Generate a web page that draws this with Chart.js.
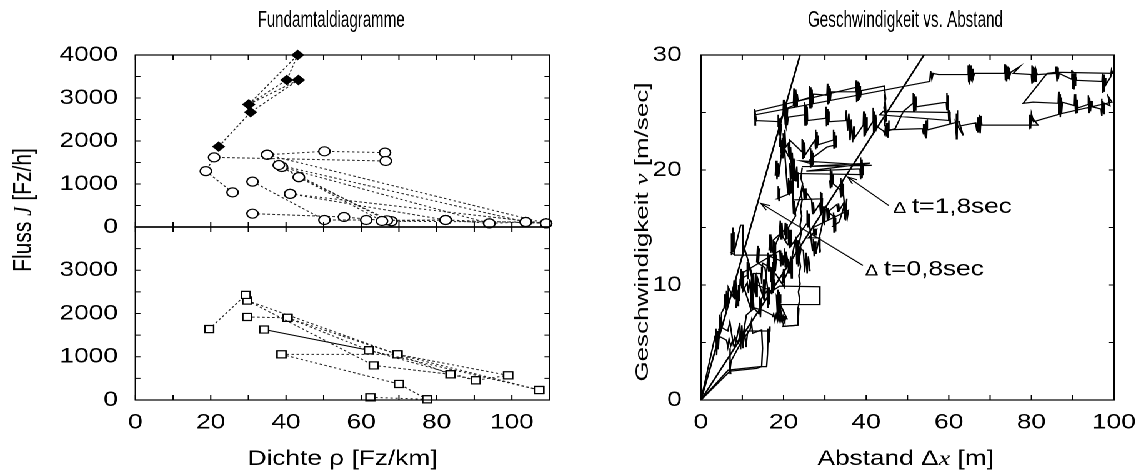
<!DOCTYPE html>
<html lang="de">
<head>
<meta charset="utf-8">
<title>Fundamtaldiagramme / Geschwindigkeit vs. Abstand</title>
<style>
  html, body { margin: 0; padding: 0; background: #fff; overflow: hidden; }
  /* the original figure is drawn 25% wider than tall, so the whole stage is stretched */
  #stage { position: absolute; left: 0; top: 0; width: 913px; height: 472px;
           transform: scaleX(1.2497); transform-origin: 0 0; }
  #stage canvas { position: absolute; top: 0; }
</style>
</head>
<body>
<div id="stage">
  <canvas id="fluxTop" width="445" height="472" style="left:0;width:445px;height:472px"></canvas>
  <canvas id="fluxBottom" width="445" height="472" style="left:0;width:445px;height:472px"></canvas>
  <canvas id="speedGap" width="480" height="472" style="left:455px;width:480px;height:472px"></canvas>
</div>

<script src="https://cdn.jsdelivr.net/npm/chart.js"></script>
<script>
// ---- tick labels
const densityTicks = [0, 20, 40, 60, 80, 100];
const fluxTopTicks = [0, 1000, 2000, 3000, 4000];
const fluxBottomTicks = [0, 1000, 2000, 3000];
const gapTicks = [0, 20, 40, 60, 80, 100];
const speedTicks = [0, 10, 20, 30];

// ---- left, upper panel: [density, flow]
const freeFlowRuns = [
  [[22.1, 1870], [30.6, 2670], [43.3, 3420]],
  [[30.1, 2850], [40.2, 3420], [43.1, 4000]],
  [[30.1, 2850], [43.1, 4000]],
  [[30.1, 2850], [43.3, 3420]]
];
const congestedRuns = [
  [[25.8, 805], [18.7, 1300], [20.9, 1620], [66.5, 1535]],
  [[35.0, 1680], [50.2, 1760], [66.3, 1730]],
  [[35.0, 1680], [38.1, 1440], [103.7, 116], [109.1, 85]],
  [[38.9, 1395], [94.0, 85], [103.7, 116]],
  [[38.1, 1440], [43.4, 1160], [65.5, 140]],
  [[38.9, 1395], [66.8, 155], [82.4, 163]],
  [[43.4, 1160], [68.0, 133], [103.7, 116]],
  [[31.1, 1055], [50.2, 163], [61.3, 163]],
  [[31.1, 310], [55.4, 233], [68.0, 133], [82.4, 163], [109.1, 85]],
  [[41.1, 770], [82.4, 163], [94.0, 85]],
  [[41.1, 770], [109.1, 85]],
  [[35.0, 1680], [109.1, 85]]
];

// ---- left, lower panel
const lowerRuns = [
  [[19.6, 1640], [29.3, 2430]],
  [[29.7, 2300], [63.3, 800], [83.7, 594], [90.4, 455]],
  [[29.7, 1920], [40.4, 1900], [62.0, 1150], [107.3, 231]],
  [[40.4, 1900], [69.6, 1055], [99.0, 570]],
  [[29.7, 2300], [69.6, 1055], [107.3, 231]],
  [[38.8, 1055], [69.6, 1055], [83.7, 594]],
  [[38.8, 1055], [70.0, 370], [77.5, 16]],
  [[62.4, 62], [77.5, 16]],
  [[62.0, 1150], [90.4, 455], [99.0, 570]]
];
const lowerSolidRun = [[34.2, 1630], [62.0, 1150]];

// ---- right panel: [gap, speed]
const lineDt08 = [[0, 0], [24, 30]];
const lineDt18 = [[0, 0], [54, 30]];

const run1 = [[19.1,24.2],[13.4,24.3],
  [13.0,25.3],[13.2,24.0],[12.9,25.0],[13.3,24.2],[13.0,25.2],[13.2,23.9],[13.1,24.8],
  [55.4,27.7],[55.6,28.6],[55.9,27.9],[56.2,28.4],[57.5,28.3],
  [64.6,28.3],[64.7,29.1],[64.8,27.7],[64.9,29.2],[65.0,27.6],[65.1,29.0],[65.2,27.8],[65.4,29.1],[65.5,27.7],[65.7,28.8],[65.9,28.0],[66.2,28.4],
  [73.4,28.4],[73.6,29.2],[73.7,27.8],[73.9,29.1],[74.0,27.7],[74.2,29.0],[74.3,27.9],[74.5,28.9],[74.7,28.1],[75.0,28.5],[77.2,29.0],[75.6,28.4],
  [80.0,28.3],[80.1,29.1],[80.2,27.5],[80.4,29.0],[80.5,27.6],[80.7,28.9],[80.9,27.7],[81.1,28.7],[81.4,28.3],
  [85.9,28.4],[86.0,29.0],[86.2,27.7],[86.3,28.9],[86.5,27.9],[86.7,28.4],
  [89.7,27.9],[89.8,28.7],[90.0,27.1],[90.1,28.6],[90.3,27.0],[90.5,28.4],[90.6,27.3],[90.8,28.1],[91.0,27.8],
  [97.1,27.7],[97.2,28.4],[97.3,26.7],[97.5,28.3],[97.6,26.8],[97.8,28.0],[98.0,27.4],[99.2,28.1],[99.4,28.7],[99.7,28.4],
  [86.0,28.5],[83.8,28.4],[78.0,25.8],[80.4,25.9],
  [86.5,25.8],[86.6,26.8],[86.7,24.8],[86.9,26.6],[87.0,24.6],[87.2,26.3],[87.3,24.9],[87.5,25.9],
  [90.4,25.6],[90.5,26.6],[90.6,24.9],[90.8,26.4],[90.9,25.0],[91.1,26.1],[91.3,25.4],
  [93.7,25.7],[93.8,26.5],[94.0,25.0],[94.1,26.3],[94.3,25.1],[94.5,26.0],[94.7,25.5],
  [96.9,25.3],[97.0,26.2],[97.1,24.7],[97.3,26.0],[97.5,24.9],[97.7,25.8],[99.0,25.6],[98.6,26.4],[99.5,25.9],
  [87.2,24.9],[80.5,24.2],
  [80.0,24.9],[79.8,23.6],[79.6,24.8],[79.5,23.7],[80.3,24.5],[81.6,23.9],
  [68.0,23.9],[67.8,24.7],[67.6,23.2],[67.4,24.8],[67.2,23.3],[67.0,24.6],[66.8,23.4],[66.5,24.1],
  [62.3,23.8],[62.1,25.2],[62.0,22.7],[61.9,24.9],[61.8,22.9],[61.6,24.2],[63.5,23.0],[62.5,24.2],
  [55.0,23.5],[54.8,24.4],[54.6,22.8],[54.5,24.3],[54.3,22.9],[54.1,24.0],[53.9,23.1],[53.6,23.6],
  [45.7,23.5],[45.5,24.3],[45.3,22.8],[45.1,24.1],[44.9,22.9],[44.7,23.9],[44.5,23.1],[44.2,23.4]];

const run2 = [[19.1,24.2],[19.9,24.9],
  [20.0,26.1],[20.2,24.4],[20.3,26.0],[20.5,24.5],[20.6,25.9],[20.8,24.6],[21.0,25.4],
  [22.4,25.6],[22.5,27.1],[22.6,25.4],[22.8,27.0],[22.9,25.5],[23.0,26.9],[23.2,25.6],[23.3,26.6],[23.5,26.0],
  [26.2,26.3],[26.3,27.3],[26.4,25.4],[26.6,27.2],[26.7,25.5],[26.9,27.0],[27.0,25.8],[27.2,26.6],
  [30.5,26.5],[30.6,27.5],[30.7,25.7],[30.9,27.3],[31.0,25.8],[31.2,27.1],[31.3,26.0],[31.5,26.8],
  [37.5,26.8],[37.6,27.8],[37.7,25.9],[37.9,27.7],[38.0,26.0],[38.2,27.6],[38.3,26.1],[38.5,27.3],[38.6,26.3],[38.8,26.9],
  [44.4,27.3],[44.7,26.2],[44.3,25.4],[44.8,24.6],[44.4,23.8],[44.7,25.0],[44.5,26.6],[44.9,24.2]];

const run2b = [[13.1,25.1],[37.7,27.2]];

const run3 = [[20.3,25.1],
  [20.4,24.0],[20.5,25.3],[20.6,23.8],[20.8,25.1],[20.9,23.9],[21.1,24.6],
  [25.0,24.8],[25.1,25.9],[25.2,23.9],[25.4,25.7],[25.5,24.0],[25.7,25.5],[25.8,24.3],
  [30.2,24.5],[30.3,25.5],[30.4,23.8],[30.6,25.3],[30.7,23.9],[30.9,25.1],[31.0,24.2],
  [35.0,24.3],[35.2,25.2],[35.5,23.4],[35.8,24.9],[36.1,22.6],[36.4,24.4],[36.7,22.4],[37.0,23.8],[37.2,22.8],
  [39.3,23.9],[39.4,25.1],[39.5,22.9],[39.7,24.9],[39.8,23.0],[40.0,24.6],[40.2,23.4],
  [41.6,24.2],[41.7,25.4],[41.8,23.3],[42.0,25.1],[42.1,23.4],[42.3,24.8],[42.5,23.8],
  [44.6,23.3],[47.0,23.6],[49.0,25.1],
  [51.3,25.8],[51.4,26.7],[51.5,25.1],[51.7,26.6],[51.8,25.2],[52.0,26.4],[52.2,25.5],
  [59.4,25.9],[59.5,26.7],[59.6,25.2],[59.8,26.5],[59.9,25.1],[60.0,24.3],[60.2,25.2],[60.4,24.1],[60.3,25.0],
  [44.1,25.1],[43.3,24.8],[60.3,24.3]];

const run4 = [[19.9,23.2],[20.1,22.3],[20.3,23.5],[20.5,22.0],[21.1,22.3],[21.3,21.2],[21.5,22.6],
  [24.4,21.6],[24.5,22.7],[24.6,21.0],[24.8,22.6],[24.9,21.1],[25.1,22.4],[25.2,21.3],
  [27.6,22.6],[27.7,23.5],[27.8,21.8],[28.0,23.3],[28.1,21.9],[28.3,23.0],[28.4,22.2],
  [32.0,22.6],[32.1,23.5],[32.2,21.9],[32.4,23.3],[32.5,22.0],[32.7,23.0],[32.8,22.2],[30.5,22.0],
  [26.4,20.9],[26.5,21.9],[26.6,20.2],[26.8,21.7],[26.9,20.3],[27.1,21.5],[27.2,20.5],
  [24.2,20.8],[41.3,20.4],[24.5,20.3],[41.0,20.6],[25.5,19.9],[38.5,20.1],
  [38.6,21.1],[38.7,19.2],[38.9,20.9],[39.0,19.3],[39.2,20.6],[39.3,19.6],
  [22.0,19.7],[22.1,20.7],[22.2,19.0],[22.4,20.6],[22.5,19.1],[22.7,20.3],[22.8,19.5]];

const run5 = [[24.5,20.2],[24.2,19.3],[24.6,18.8],[24.2,18.0],[24.5,17.4],[24.1,16.6],[24.4,16.0],
  [24.0,15.2],[24.3,14.6],[23.9,13.8],[24.2,13.1],[23.8,12.3],[24.1,11.6],[23.7,10.8],
  [24.0,10.1],[23.6,9.4],[23.9,8.7],[23.5,8.0],[23.4,6.5],[19.9,6.4]];

const run6 = [[31.2,19.1],[31.3,20.1],[31.4,18.4],[31.6,19.9],[31.7,18.5],[31.9,19.6],[32.0,18.8],
  [33.7,18.3],[33.8,19.3],[33.9,17.6],[34.1,19.1],[34.2,17.7],[34.4,18.8],[34.5,17.9],
  [34.9,16.2],[35.3,17.5],[35.0,15.6],[34.6,16.8],[33.5,15.5],
  [32.0,15.1],[32.1,16.3],[32.2,14.6],[32.4,16.1],[32.5,14.7],[32.6,15.8],
  [28.8,17.0],[28.9,18.1],[29.0,16.3],[29.2,18.0],[29.3,16.4],[29.4,17.5],
  [22.3,17.4],[22.4,16.2],[22.5,17.3],[22.6,16.1],[22.7,17.2],[22.9,16.0],
  [20.3,14.5],[20.4,15.4],[20.5,13.9],[20.7,15.3],[20.8,14.0],[20.9,15.0],
  [17.5,13.9],[17.6,12.2],[17.7,13.8],[17.9,12.3],[18.0,13.6],[18.1,12.4],[18.3,12.6]];

const run7 = [[8.2,12.6],[7.4,12.8],[7.5,14.2],[7.6,12.9],[7.7,15.0],[7.8,13.3],[7.9,14.6],[8.0,12.8],
  [9.6,15.2],[10.2,15.2],[10.3,12.5],[10.1,14.0],[10.4,12.8],[10.2,13.6],
  [12.3,11.0],[12.4,9.2],[12.2,10.6],[12.5,9.0],[12.3,10.2],
  [17.0,9.5],[17.1,10.9],[17.2,9.2],[17.4,10.7],[17.5,9.3],[17.6,10.5],[17.8,9.6],
  [19.0,9.9],[28.8,9.85],[28.8,8.3],[18.5,8.3],[18.6,9.6],[18.7,8.0],[18.9,9.4],[19.0,8.1],[19.1,9.2],[19.3,8.4]];

const run8 = [[0,0],[3.4,5.5],[3.6,6.2],[3.8,3.9],[4.0,6.0],[4.2,4.4],[4.6,7.0],[5.0,6.3],
  [6.5,6.0],[7.0,6.8],[7.8,4.9],[8.2,5.5],[9.0,5.0],[9.4,5.6],[9.8,5.1],
  [11.9,6.1],[12.2,6.8],[12.5,5.8],[14.7,6.1],[14.9,4.5],[14.7,2.9],[13.5,2.75],
  [7.0,2.5],[6.9,3.3],[7.2,2.3],[7.1,3.8],[7.0,4.5]];

const run9 = [[0,0],[7.0,2.5],[7.3,3.4],[8.5,4.2],[10.0,5.2],[11.0,7.4],[13.0,8.0],[15.0,7.8],
  [18.3,7.2],[18.5,7.5],[18.8,7.0],[19.1,7.4],[19.4,6.9],[19.7,7.3],[20.0,6.9],[20.3,7.2],
  [19.9,6.4],[23.5,6.5],[23.7,8.0]];

const run10 = [[8.5,8.0],[8.7,9.5],[8.9,8.2],[9.1,10.0],[9.3,8.6],[9.5,10.5],
  [11.0,10.8],[11.2,12.0],[11.4,10.5],[11.6,11.8],[13.0,9.5],[13.2,11.0],[13.4,9.0],[13.6,10.7],
  [15.0,9.0],[15.2,10.5],[15.4,8.6],[15.6,10.2],[16.0,11.5],[16.2,12.8],[16.4,11.2],[16.6,12.5],
  [20.0,12.0],[20.2,13.2],[20.4,11.6],[20.6,12.9],[21.5,11.0],[21.7,12.5],[21.9,10.6],[22.1,12.0],
  [19.8,10.2],[20.0,11.4],[20.2,9.8],[18.0,11.0]];

const run11 = [[18.5,23.8],[18.7,24.8],[18.9,23.0],[19.1,24.5],[19.3,23.2],[19.5,24.0],
  [19.0,22.0],[19.2,23.0],[19.4,21.5],[19.6,22.6],[19.8,21.0],[20.0,22.0],
  [21.5,21.0],[21.7,22.0],[21.9,20.2],[22.1,21.5],[22.3,20.0],[22.5,21.0],
  [23.0,19.0],[23.2,20.3],[23.4,18.5],[23.6,19.8]];

const run12 = [[7.4,12.6],[7.3,14.5],[7.5,12.7],[7.4,14.3],[7.6,12.9],[7.5,14.0],[8.2,12.6],[18.3,12.6],
  [18.0,11.2],[17.8,12.2],[17.6,10.1],[17.4,12.0],[17.2,10.3],[17.0,11.5],
  [14.9,11.9],[14.7,10.1],[14.8,11.6],[14.6,10.3],[14.5,11.0],
  [12.7,11.0],[12.5,9.0],[12.3,10.8],[12.1,9.2],[11.8,10.5],[11.5,9.3],[11.2,10.2],[10.2,9.5],[9.8,11.0],
  [19.1,13.0],[19.3,11.6],[19.6,12.8],[19.8,11.7],[20.0,12.5],
  [21.1,12.2],[21.2,11.0],[21.3,12.0],[21.4,11.2],
  [23.0,14.2],[23.2,11.8],[23.4,13.9],[23.6,11.6],[23.9,13.2],
  [24.8,13.0],[25.1,11.1],[25.4,12.8],[25.7,11.0],[26.0,12.5],[26.4,11.2]];

const run13 = [[3.4,5.6],[3.6,5.1],[3.8,5.7],[4.0,5.2],[4.6,5.5],[6.2,5.2],[6.5,4.6],[6.8,5.3],
  [7.2,4.7],[7.6,5.1],[8.2,4.6],[9.4,6.7],[9.6,4.4],[9.9,6.5],[10.2,4.5],[10.5,6.2],[10.9,4.6],
  [11.3,6.0],[11.9,6.0],[16.7,6.0],[16.7,6.4],[16.5,5.0],[16.3,6.2],[16.1,4.0],[15.9,2.9],
  [14.3,2.9],[6.6,2.6],[0,0]];

const run14 = [[17.3,7.2],[17.6,7.5],[17.9,6.9],[18.2,7.4],[18.5,6.9],[18.8,7.4],[19.1,6.9],
  [19.4,7.3],[19.7,6.8],[20.0,7.3],[20.3,6.9],[20.6,7.2],[20.9,7.0],
  [18.3,9.0],[18.5,7.4],[18.7,8.8],[18.9,7.5],[19.1,8.6],[19.5,7.2]];

const run15 = [[21.5,20.6],[21.7,19.1],[21.9,20.4],[22.1,19.2],[22.3,20.1],
  [22.3,17.4],[22.5,16.2],[22.6,17.3],[22.8,16.3],
  [24.8,18.5],[25.0,17.4],[25.2,18.4],[25.4,17.5],[25.6,18.0],
  [26.8,17.4],[27.0,16.2],[27.2,17.2],[27.4,16.3],
  [28.8,17.1],[29.0,16.2],[29.2,17.0],[29.4,16.3],[29.6,16.8],
  [30.4,16.8],[30.6,15.7],[30.8,16.7],[31.0,15.8],[31.2,16.5],
  [32.9,17.0],[33.1,16.4],[33.3,17.1],[33.5,16.5],
  [34.5,17.1],[34.8,15.7],[35.1,16.9],[35.4,15.8],[35.7,16.5],
  [27.2,15.0],[27.4,14.2],[27.6,14.9],[27.8,14.3],[28.0,14.8],
  [26.0,14.1],[28.8,14.1],[28.8,12.8],[28.6,13.9],[28.9,12.9]];

const run16 = [[4.3,6.2],[4.4,7.4],[4.5,5.8],[4.7,7.2],[4.8,6.0],[5.0,7.6],
  [5.6,8.0],[5.8,9.2],[6.0,7.8],[6.2,9.5],[6.4,8.2],[6.6,9.8],
  [7.8,9.0],[8.0,10.4],[8.2,8.8],[8.4,10.6],[8.6,9.1],
  [9.5,10.0],[9.7,11.4],[9.9,9.7],[10.1,11.2],[10.3,9.9],
  [12.0,8.0],[12.2,9.4],[12.4,7.8],[12.6,9.2],[12.8,8.0],
  [14.0,7.5],[14.2,9.0],[14.4,7.2],[14.6,8.8],
  [16.0,9.5],[16.2,8.0],[16.4,9.8],[16.6,8.3],[15.5,11.5],
  [13.5,12.0],[13.7,13.4],[13.9,11.8],[14.1,13.2]];

const run17 = [[16.5,13.0],[16.7,14.4],[16.9,12.8],[17.1,14.2],[17.3,12.9],
  [19.0,14.3],[19.2,15.6],[19.4,14.0],[19.6,15.4],[19.8,14.2],
  [21.0,13.5],[21.2,15.0],[21.4,13.2],[21.6,14.8],[21.8,13.4],
  [25.5,15.3],[25.7,16.5],[25.9,15.0],[26.1,16.2],[26.3,15.2],
  [27.0,13.0],[27.2,14.0],[27.4,12.5],[27.6,13.8],[27.8,12.7],
  [29.5,15.5],[29.7,16.8],[29.9,15.2],[30.1,16.5]];

const run18 = [[18.0,19.5],[18.2,20.8],[18.4,19.2],[18.6,20.6],[18.8,19.4],
  [19.5,21.5],[19.7,22.8],[19.9,21.2],[20.1,22.6],[20.3,21.4],
  [21.0,18.0],[21.2,19.3],[21.4,17.8],[21.6,19.1],[21.8,18.0],
  [18.5,17.5],[18.7,18.6],[18.9,17.3],[19.1,18.4]];

const followRuns = [run1, run2, run2b, run3, run4, run5, run6, run7, run8,
  run9, run10, run11, run12, run13, run14, run15, run16, run17, run18];

const notes = [
  { label: 't=1,8sec', text: [46.5, 16.9], tail: [45.5, 16.9], head: [35.5, 19.4] },
  { label: 't=0,8sec', text: [39.7, 11.5], tail: [39.2, 11.7], head: [14.5, 17.1] }
];

// ---- helpers
const FONT = 'Liberation Sans';
Chart.defaults.font.family = FONT;
Chart.defaults.font.size = 21;
Chart.defaults.color = '#000';

const pts = (arr) => arr.map(([x, y]) => ({ x, y }));
const useTicks = (list) => (scale) => { scale.ticks = list.map((v) => ({ value: v })); };
const plain = (v) => String(v);

// parts: [{t, font}], centred on (x, y) unless align = 'left'; sx squeezes across the baseline
function drawRich(ctx, parts, x, y, angle, align, sx) {
  ctx.save();
  ctx.translate(x, y);
  if (sx) ctx.scale(sx, 1);
  ctx.rotate(angle || 0);
  ctx.textAlign = 'left';
  ctx.textBaseline = 'alphabetic';
  ctx.fillStyle = '#000';
  let w = 0;
  parts.forEach((p) => { ctx.font = p.font; p.w = ctx.measureText(p.t).width; w += p.w; });
  let cx = align === 'left' ? 0 : -w / 2;
  parts.forEach((p) => { ctx.font = p.font; ctx.fillText(p.t, cx, 0); cx += p.w; });
  ctx.restore();
}

// condensed title, squeezed to the width it has in the figure
function drawTitle(ctx, text, cx, base, width) {
  ctx.save();
  ctx.font = '23px ' + FONT;
  const w = ctx.measureText(text).width;
  ctx.translate(cx, base);
  ctx.scale(width / w, 1);
  ctx.fillStyle = '#000';
  ctx.textAlign = 'center';
  ctx.textBaseline = 'alphabetic';
  ctx.fillText(text, 0, 0);
  ctx.restore();
}

// frame and inward ticks (gnuplot style)
const frameTicks = {
  id: 'frameTicks',
  afterDatasetsDraw(chart, args, opts) {
    const { ctx, chartArea: a, scales: { x, y } } = chart;
    ctx.save();
    ctx.strokeStyle = '#000';
    ctx.lineWidth = 1;
    ctx.beginPath();
    for (let v = x.min; v <= x.max + 1e-6; v += opts.xStep) {
      const px = x.getPixelForValue(v);
      ctx.moveTo(px, a.bottom); ctx.lineTo(px, a.bottom - 5);
      ctx.moveTo(px, a.top); ctx.lineTo(px, a.top + 5);
    }
    for (let v = y.min; v <= y.max + 1e-6; v += opts.yStep) {
      const py = y.getPixelForValue(v);
      ctx.moveTo(a.left, py); ctx.lineTo(a.left + 4, py);
      ctx.moveTo(a.right, py); ctx.lineTo(a.right - 4, py);
    }
    ctx.stroke();
    ctx.lineWidth = 1.2;
    ctx.strokeRect(a.left, a.top, a.right - a.left, a.bottom - a.top);
    ctx.restore();
  }
};

const panelText = {
  id: 'panelText',
  afterDraw(chart, args, opts) {
    if (opts.draw) opts.draw(chart, chart.ctx);
  }
};

const baseOptions = (padding) => ({
  responsive: false,
  animation: false,
  devicePixelRatio: 2,
  layout: { autoPadding: false, padding },
  plugins: { legend: { display: false }, tooltip: { enabled: false } }
});

const dotted = (run, style) => Object.assign({
  data: pts(run),
  showLine: true,
  borderColor: '#222',
  borderWidth: 1,
  borderDash: [2, 2],
  pointBorderColor: '#000',
  pointBorderWidth: 1.2,
  clip: 10
}, style);

const circleStyle = { pointStyle: 'circle', pointRadius: 4.5, pointBackgroundColor: '#fff' };
const diamondStyle = { pointStyle: 'rectRot', pointRadius: 4.4, pointBackgroundColor: '#000' };
const squareStyle = { pointStyle: 'rect', pointRadius: 5, pointBackgroundColor: '#fff' };

const yLeft = (max, list) => ({
  type: 'linear', min: 0, max,
  afterBuildTicks: useTicks(list),
  afterFit: (s) => { s.width = 108.4; },
  grid: { display: false, drawTicks: false },
  border: { display: false },
  ticks: { padding: 14, callback: plain }
});

const xBottom = (max, list) => ({
  type: 'linear', min: 0, max,
  afterBuildTicks: useTicks(list),
  afterFit: (s) => { s.height = 72; },
  grid: { display: false, drawTicks: false },
  border: { display: false },
  ticks: { padding: 10, maxRotation: 0, callback: plain }
});

const sans = (px) => px + 'px ' + FONT;
const ital = (px) => 'italic ' + px + 'px Liberation Serif';

// ---- left, upper chart (also carries the titles of the left panel)
const fluxTop = new Chart(document.getElementById('fluxTop'), {
  type: 'scatter',
  data: {
    datasets: [
      ...congestedRuns.map((r) => dotted(r, circleStyle)),
      ...freeFlowRuns.map((r) => dotted(r, diamondStyle))
    ]
  },
  options: Object.assign(baseOptions({ left: 0, top: 55, right: 5.3, bottom: 245 }), {
    scales: {
      x: { type: 'linear', min: 0, max: 110, display: false },
      y: yLeft(4000, fluxTopTicks)
    }
  }),
  plugins: [frameTicks, panelText]
});
fluxTop.options.plugins.frameTicks = { xStep: 10, yStep: 500 };
fluxTop.options.plugins.panelText = {
  draw(chart, ctx) {
    drawTitle(ctx, 'Fundamtaldiagramme', 265, 27, 117.6);
    drawRich(ctx, [
      { t: 'Fluss ', font: sans(21) },
      { t: 'J', font: ital(21) },
      { t: ' [Fz/h]', font: sans(21) }
    ], 25.2, 210, -Math.PI / 2);
  }
};
fluxTop.update();

// ---- left, lower chart, x title centred on its own axis
const fluxBottom = new Chart(document.getElementById('fluxBottom'), {
  type: 'scatter',
  data: {
    datasets: [
      ...lowerRuns.map((r) => dotted(r, squareStyle)),
      dotted(lowerSolidRun, Object.assign({ borderDash: [], borderColor: '#000' }, squareStyle))
    ]
  },
  options: Object.assign(baseOptions({ left: 0, top: 227, right: 5.3, bottom: 0 }), {
    scales: {
      x: xBottom(110, densityTicks),
      y: yLeft(4000, fluxBottomTicks)
    }
  }),
  plugins: [frameTicks, panelText]
});
fluxBottom.options.plugins.frameTicks = { xStep: 10, yStep: 500 };
fluxBottom.options.plugins.panelText = {
  draw(chart, ctx) {
    const a = chart.chartArea;
    ctx.save();
    ctx.font = sans(21);
    ctx.fillStyle = '#000';
    ctx.textAlign = 'center';
    ctx.textBaseline = 'alphabetic';
    ctx.fillText('Dichte ρ [Fz/km]', (a.left + a.right) / 2, 465);
    ctx.restore();
  }
};
fluxBottom.update();

// ---- right chart (canvas runs past the stage so the "100" label keeps its room)
const speedGap = new Chart(document.getElementById('speedGap'), {
  type: 'scatter',
  data: {
    datasets: [
      ...followRuns.map((r) => ({
        data: pts(r), showLine: true, pointRadius: 0,
        borderColor: '#000', borderWidth: 1.2
      })),
      { data: pts(lineDt08), showLine: true, pointRadius: 0, borderColor: '#000', borderWidth: 1.4 },
      { data: pts(lineDt18), showLine: true, pointRadius: 0, borderColor: '#000', borderWidth: 1.4 }
    ]
  },
  options: Object.assign(baseOptions({ left: 0, top: 55, right: 43.6, bottom: 0 }), {
    scales: {
      x: xBottom(100, gapTicks),
      y: {
        type: 'linear', min: 0, max: 30,
        afterBuildTicks: useTicks(speedTicks),
        afterFit: (s) => { s.width = 105.9; },
        grid: { display: false, drawTicks: false },
        border: { display: false },
        ticks: { padding: 15.4, callback: plain }
      }
    }
  }),
  plugins: [frameTicks, panelText]
});
speedGap.options.plugins.frameTicks = { xStep: 10, yStep: 5 };
speedGap.options.plugins.panelText = {
  draw(chart, ctx) {
    const { x, y } = chart.scales;
    const left = 455;
    drawTitle(ctx, 'Geschwindigkeit vs. Abstand', 724.5 - left, 27, 156);
    drawRich(ctx, [
      { t: 'Geschwindigkeit ', font: sans(26) },
      { t: 'v', font: ital(26) },
      { t: ' [m/sec]', font: sans(26) }
    ], 518.4 - left, 232, -Math.PI / 2, 'center', 0.58);
    drawRich(ctx, [
      { t: 'Abstand ', font: sans(21) },
      { t: 'Δ', font: sans(21) },
      { t: 'x', font: ital(21) },
      { t: ' [m]', font: sans(21) }
    ], 724.7 - left, 465);

    ctx.save();
    ctx.strokeStyle = '#000';
    ctx.lineWidth = 1;
    notes.forEach((n) => {
      const tx = x.getPixelForValue(n.tail[0]), ty = y.getPixelForValue(n.tail[1]);
      const hx = x.getPixelForValue(n.head[0]), hy = y.getPixelForValue(n.head[1]);
      const ang = Math.atan2(ty - hy, tx - hx);
      ctx.beginPath();
      ctx.moveTo(tx, ty); ctx.lineTo(hx, hy);
      ctx.moveTo(hx + 8 * Math.cos(ang - 0.35), hy + 8 * Math.sin(ang - 0.35));
      ctx.lineTo(hx, hy);
      ctx.lineTo(hx + 8 * Math.cos(ang + 0.35), hy + 8 * Math.sin(ang + 0.35));
      ctx.stroke();
      drawRich(ctx, [
        { t: 'Δ ', font: sans(16) },
        { t: n.label, font: sans(21) }
      ], x.getPixelForValue(n.text[0]), y.getPixelForValue(n.text[1]) + 7.5, 0, 'left');
    });
    ctx.restore();
  }
};
speedGap.update();
</script>
</body>
</html>
